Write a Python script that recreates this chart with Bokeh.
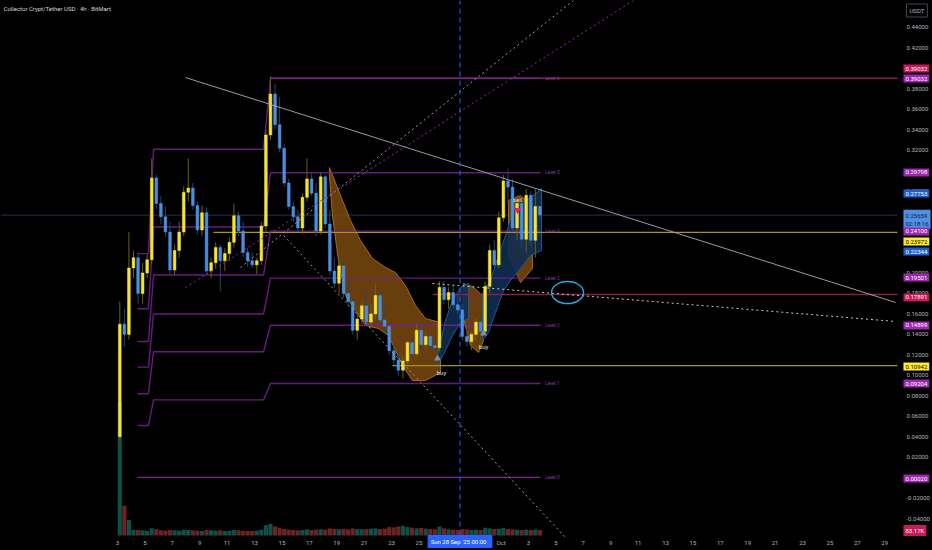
from bokeh.plotting import figure
from bokeh.models import Range1d, FixedTicker, PrintfTickFormatter, Label, ColumnDataSource, GlobalInlineStyleSheet
from bokeh.core.properties import value
from bokeh.embed import file_html
from bokeh.resources import INLINE

# ---------------- data (8h bars from Sep 3 00:00; x in days, Sep 1 = 1, Oct 1 = 31) -------------
opens = [0.040, 0.150, 0.140, 0.205, 0.215, 0.180, 0.200, 0.213, 0.293, 0.268,
         0.255, 0.240, 0.203, 0.222, 0.240, 0.279, 0.283, 0.266, 0.242, 0.259,
         0.202, 0.210, 0.225, 0.212, 0.219, 0.230, 0.256, 0.241, 0.220, 0.212,
         0.208, 0.212, 0.246, 0.335, 0.375, 0.345, 0.322, 0.288, 0.265, 0.255,
         0.244, 0.274, 0.292, 0.278, 0.241, 0.294, 0.248, 0.202, 0.190, 0.207,
         0.180, 0.172, 0.144, 0.155, 0.168, 0.152, 0.160, 0.178, 0.154, 0.148,
         0.124, 0.115, 0.105, 0.114, 0.132, 0.121, 0.144, 0.130, 0.138, 0.129,
         0.127, 0.186, 0.174, 0.181, 0.169, 0.164, 0.138, 0.133, 0.140, 0.152,
         0.143, 0.187, 0.222, 0.208, 0.254, 0.290, 0.284, 0.244, 0.268, 0.233,
         0.276, 0.232, 0.265]
highs = [0.172, 0.165, 0.240, 0.222, 0.220, 0.210, 0.218, 0.312, 0.296, 0.275,
         0.265, 0.250, 0.228, 0.250, 0.285, 0.312, 0.288, 0.270, 0.266, 0.264,
         0.215, 0.230, 0.228, 0.224, 0.235, 0.268, 0.260, 0.250, 0.225, 0.220,
         0.215, 0.250, 0.340, 0.392, 0.385, 0.372, 0.326, 0.292, 0.270, 0.262,
         0.278, 0.312, 0.298, 0.288, 0.298, 0.296, 0.262, 0.215, 0.212, 0.210,
         0.192, 0.176, 0.160, 0.172, 0.182, 0.170, 0.190, 0.182, 0.168, 0.150,
         0.130, 0.122, 0.118, 0.134, 0.136, 0.150, 0.148, 0.142, 0.140, 0.136,
         0.192, 0.192, 0.186, 0.188, 0.178, 0.170, 0.146, 0.142, 0.156, 0.156,
         0.192, 0.228, 0.232, 0.260, 0.296, 0.302, 0.292, 0.276, 0.272, 0.282,
         0.280, 0.282, 0.266]
lows = [0.036, 0.128, 0.135, 0.195, 0.170, 0.170, 0.195, 0.208, 0.262, 0.248,
        0.235, 0.198, 0.198, 0.215, 0.236, 0.270, 0.262, 0.238, 0.236, 0.198,
        0.195, 0.205, 0.182, 0.202, 0.212, 0.225, 0.236, 0.216, 0.206, 0.205,
        0.199, 0.208, 0.240, 0.330, 0.340, 0.318, 0.284, 0.262, 0.250, 0.240,
        0.238, 0.270, 0.275, 0.236, 0.238, 0.244, 0.198, 0.185, 0.180, 0.176,
        0.168, 0.140, 0.135, 0.150, 0.148, 0.146, 0.155, 0.150, 0.142, 0.120,
        0.110, 0.100, 0.097, 0.110, 0.118, 0.118, 0.126, 0.125, 0.126, 0.124,
        0.124, 0.170, 0.165, 0.166, 0.160, 0.134, 0.128, 0.125, 0.134, 0.138,
        0.140, 0.180, 0.205, 0.205, 0.250, 0.268, 0.240, 0.232, 0.225, 0.220,
        0.226, 0.215, 0.252]
closes = [0.150, 0.140, 0.205, 0.215, 0.180, 0.200, 0.213, 0.293, 0.268, 0.255,
          0.240, 0.203, 0.222, 0.240, 0.279, 0.283, 0.266, 0.242, 0.259, 0.202,
          0.210, 0.225, 0.212, 0.219, 0.230, 0.256, 0.241, 0.220, 0.212, 0.208,
          0.212, 0.246, 0.335, 0.375, 0.345, 0.322, 0.288, 0.265, 0.255, 0.244,
          0.274, 0.292, 0.278, 0.241, 0.294, 0.248, 0.202, 0.190, 0.207, 0.180,
          0.172, 0.144, 0.155, 0.168, 0.152, 0.160, 0.178, 0.154, 0.148, 0.124,
          0.115, 0.105, 0.114, 0.132, 0.121, 0.144, 0.130, 0.138, 0.129, 0.127,
          0.186, 0.174, 0.181, 0.169, 0.164, 0.138, 0.133, 0.140, 0.152, 0.143,
          0.187, 0.222, 0.208, 0.254, 0.290, 0.284, 0.244, 0.268, 0.233, 0.276,
          0.232, 0.265, 0.2566]
volumes_k = [2050, 460, 240, 90, 85, 80, 75, 110, 95, 80,
             75, 85, 80, 75, 90, 85, 80, 75, 70, 85,
             80, 75, 80, 70, 75, 85, 80, 75, 70, 70,
             75, 90, 160, 180, 140, 120, 100, 90, 85, 80,
             85, 95, 85, 90, 95, 90, 110, 100, 95, 100,
             95, 110, 100, 95, 100, 105, 110, 100, 105, 130,
             125, 140, 150, 130, 120, 110, 115, 105, 100, 95,
             140, 110, 95, 90, 85, 100, 95, 85, 90, 85,
             120, 110, 100, 105, 115, 100, 95, 90, 85, 90,
             85, 90, 83.17]

bar_hours = 8
first_day = 3

# Fibonacci-style pivot levels (Level 0..6) for three periods
level_names = ["Level 0", "Level 1", "Level 2", "Level 3", "Level 4", "Level 5", "Level 6"]
levels_a = [0.0002, 0.051, 0.082, 0.108, 0.133, 0.165, 0.219]
levels_b = [0.0002, 0.076, 0.123, 0.160, 0.198, 0.245, 0.321]
levels_c = [0.0002, 0.09204, 0.14899, 0.19501, 0.24100, 0.29798, 0.39032]
period_days = [4.46, 5.26, 5.63, 13.66, 14.17, 33.88]

# horizontal rays (start day, price)
red_rays = [(14.17, 0.39032), (26.0, 0.17891)]
yellow_rays = [(10.0, 0.23972), (23.07, 0.10942)]
last_price = 0.25659

# trend lines (day, price) pairs
trend_solid = ([7.96, 59.8], [0.3911, 0.1712])
trend_gray_down = ([15.12, 35.70], [0.2367, -0.0585])
trend_gray_up = ([11.98, 36.28], [0.2054, 0.4664])
trend_purple_up = ([7.96, 40.66], [0.1858, 0.4664])
trend_white_flat = ([25.99, 59.8], [0.1898, 0.1526])
marked_day = 28

# envelope bands (outline days / prices)
orange_band_1 = ([18.47, 19.28, 20.01, 20.74, 21.61, 22.56, 23.29, 24.02, 24.75, 25.48, 26.58,
                  26.58, 25.48, 24.53, 23.80, 23.29, 22.78, 22.05, 21.10, 20.37, 19.64, 19.13, 18.69, 18.47],
                 [0.3031, 0.2758, 0.2513, 0.2318, 0.2142, 0.2054, 0.2005, 0.1878, 0.1683, 0.1555, 0.1516,
                  0.1028, 0.0949, 0.0949, 0.1096, 0.1243, 0.1389, 0.1458, 0.1487, 0.1634, 0.1780, 0.2122, 0.2562, 0.2953])
orange_band_2 = ([28.26, 28.91, 29.72, 29.72, 29.35, 28.77, 28.26],
                 [0.1898, 0.1868, 0.1770, 0.1340, 0.1223, 0.1291, 0.1555])
orange_band_3 = ([31.54, 32.42, 33.29, 33.29, 32.42, 31.54],
                 [0.2709, 0.2758, 0.2660, 0.2044, 0.1907, 0.2171])
blue_band_1 = ([26.36, 26.94, 27.45, 28.04, 28.62, 28.62, 28.04, 27.45, 26.94, 26.36],
               [0.1194, 0.1536, 0.1731, 0.1858, 0.1898, 0.1555, 0.1516, 0.1389, 0.1243, 0.1096])
blue_band_2 = ([29.64, 30.23, 30.81, 31.32, 31.83, 32.42, 33.15, 33.95,
                33.95, 33.15, 32.42, 31.69, 31.18, 30.59, 30.08, 29.64],
               [0.1800, 0.1927, 0.2171, 0.2367, 0.2592, 0.2680, 0.2738, 0.2826,
                0.2220, 0.2171, 0.2044, 0.1927, 0.1829, 0.1614, 0.1418, 0.1340])

buy_days = [26.36, 29.72]
buy_prices = [0.1164, 0.1410]
sell_days = [32.2]
sell_prices = [0.2615]
signal_text = ["buy", "buy", "sell"]
signal_days = [26.65, 29.72, 32.2]
signal_prices = [0.1028, 0.1282, 0.2719]

circle_center = (35.85, 0.1809)
circle_size = (2.34, 0.0215)

# right-hand price badges
badge_text = ["0.39032", "0.39032", "0.29798", "0.27753", "0.25659\n02:18:16", "0.24100", "0.23972",
              "0.22344", "0.19501", "0.17891", "0.14899", "0.10942", "0.09204", "0.00020", "83.17K"]
badge_pos = [0.3999, 0.3901, 0.2983, 0.2777, 0.2523, 0.2406, 0.2308,
             0.2210, 0.1956, 0.1761, 0.1487, 0.1086, 0.0920, -0.0009, -0.0517]
badge_kind = ["red", "purple", "purple", "blue", "last", "purple", "yellow",
              "blue", "purple", "red", "purple", "yellow", "purple", "purple", "red"]

x_tick_days = [3, 5, 7, 9, 11, 13, 15, 17, 19, 21, 23, 25, 31, 33, 35, 37, 39, 41, 43, 45,
               47, 49, 51, 53, 55, 57, 59]
x_tick_labels = ["3", "5", "7", "9", "11", "13", "15", "17", "19", "21", "23", "25", "Oct", "3", "5",
                 "7", "9", "11", "13", "15", "17", "19", "21", "23", "25", "27", "29"]
y_ticks = [-0.04, -0.02, 0.0, 0.02, 0.04, 0.06, 0.08, 0.10, 0.12, 0.14, 0.16, 0.18, 0.20,
           0.22, 0.24, 0.26, 0.28, 0.30, 0.32, 0.34, 0.36, 0.38, 0.40, 0.42, 0.44]

title_text = "Collector Crypt/Tether USD \u00b7 4h \u00b7 BitMart"
date_badge = "Sun 28 Sep '25   00:00"

# ---------------- figure (frame covers whole canvas; axes drawn at fixed locations) -------------
W, H = 932, 550
X0, X1 = -5.5401, 62.489          # visible days
Y0, Y1 = -0.07124, 0.46639        # visible prices
px_x = (X1 - X0) / W
px_y = (Y1 - Y0) / H
CHART_END = 59.93                 # where the price scale starts
AXIS_Y = -0.05658                 # where the time scale starts

p = figure(width=W, height=H, x_range=Range1d(X0, X1), y_range=Range1d(Y0, Y1),
           y_axis_location="right", output_backend="svg", toolbar_location=None,
           background_fill_color="#000000", border_fill_color="#000000", min_border=0)
p.stylesheets = [GlobalInlineStyleSheet(css="html, body { margin: 0 !important; padding: 0 !important; background: #000000; overflow: hidden; }")]
p.outline_line_color = None
p.grid.visible = False
p.extra_y_ranges = {"vol": Range1d(-15 * 15.4, 535 * 15.4)}

FONT = "Roboto"
for ax in (p.xaxis[0], p.yaxis[0]):
    ax.axis_line_color = None
    ax.major_tick_line_color = None
    ax.minor_tick_line_color = None
    ax.major_tick_out = 0
    ax.major_tick_in = 0
    ax.minor_tick_out = 0
    ax.major_label_text_color = "#b2b5be"
    ax.major_label_text_font_size = "6px"
    ax.major_label_text_font = FONT
p.xaxis[0].ticker = FixedTicker(ticks=x_tick_days)
p.xaxis[0].major_label_overrides = {d: t for d, t in zip(x_tick_days, x_tick_labels)}
p.xaxis[0].major_label_standoff = 3
p.xaxis[0].fixed_location = AXIS_Y
p.yaxis[0].ticker = FixedTicker(ticks=y_ticks)
p.yaxis[0].formatter = PrintfTickFormatter(format="%.5f")
p.yaxis[0].major_label_standoff = 9
p.yaxis[0].fixed_location = CHART_END

# last price line
p.line([X0, CHART_END], [last_price, last_price], line_color="#24324a", line_width=1)

# bands
for band in (orange_band_1, orange_band_2, orange_band_3):
    p.patch(band[0], band[1], fill_color="#7a4a0e", fill_alpha=0.85, line_color="#a8681c", line_width=1)
for band in (blue_band_1, blue_band_2):
    p.patch(band[0], band[1], fill_color="#0f2c52", fill_alpha=0.9, line_color="#1f5796", line_width=1)

# rays
for d0, pr in red_rays:
    p.line([d0, CHART_END], [pr, pr], line_color="#8c1f42", line_width=1.5)
for d0, pr in yellow_rays:
    p.line([d0, CHART_END], [pr, pr], line_color="#a3951f", line_width=1.2)

# pivot levels
for k in range(len(level_names)):
    ys = [levels_a[k], levels_a[k], levels_b[k], levels_b[k], levels_c[k], levels_c[k]]
    col = "#9c27b0" if k == 0 else "#7b1f96"
    p.line(period_days, ys, line_color=col, line_width=1.4, line_alpha=0.85)
p.text(x=[period_days[-1] + 0.35] * len(level_names), y=levels_c, text=level_names,
       text_font=value(FONT), text_font_size=value("4.5px"), text_color="#8e3aa8",
       text_baseline="middle", text_align="left")

# volume
n = len(closes)
cx = [first_day + (i + 0.5) * bar_hours / 24 for i in range(n)]
up = [c >= o for o, c in zip(opens, closes)]
vsrc = ColumnDataSource(dict(x=cx, top=volumes_k,
                             color=["#0e5a52" if u else "#7a2727" for u in up]))
p.vbar(x="x", top="top", bottom=0, width=0.9 * bar_hours / 24, source=vsrc, y_range_name="vol",
       fill_color="color", line_color=None, fill_alpha=0.9)

# candles
csrc = ColumnDataSource(dict(x=cx, o=opens, h=highs, l=lows, c=closes,
                             top=[max(o, c) for o, c in zip(opens, closes)],
                             bot=[min(o, c) for o, c in zip(opens, closes)],
                             body=["#f5e435" if u else "#4a90e2" for u in up],
                             wick=["#6b6016" if u else "#25476e" for u in up]))
p.segment(x0="x", y0="l", x1="x", y1="h", source=csrc, line_color="wick", line_width=1)
p.vbar(x="x", top="top", bottom="bot", width=0.6 * bar_hours / 24, source=csrc,
       fill_color="body", line_color="body", line_width=0.5)

# trend lines
p.line(*trend_solid, line_color="#b2b5be", line_width=1, line_alpha=0.85)
p.line(*trend_gray_down, line_color="#9a9a9a", line_width=1, line_dash="2 3")
p.line(*trend_gray_up, line_color="#9a9a9a", line_width=1, line_dash="2 3")
p.line(*trend_purple_up, line_color="#9c27b0", line_width=1, line_dash="2 3")
p.line(*trend_white_flat, line_color="#c8c8c8", line_width=1, line_dash="2 3")
p.line([marked_day, marked_day], [AXIS_Y, Y1], line_color="#2962ff", line_width=1.3,
       line_dash="5 4", line_alpha=0.8)

p.ellipse(x=[circle_center[0]], y=[circle_center[1]], width=circle_size[0], height=circle_size[1],
          fill_color=None, line_color="#29a8e8", line_width=1.4)

# signals
p.scatter(buy_days, buy_prices, marker="triangle", size=7, fill_color="#8a8d96", line_color=None)
p.scatter(sell_days, sell_prices, marker="inverted_triangle", size=7, fill_color="#e91e63", line_color=None)
p.text(x=signal_days, y=signal_prices, text=signal_text, text_font=value(FONT),
       text_font_size=value("6px"), text_color="#e0e0e0", text_align="center", text_baseline="middle")

# badges on the price scale
kind_bg = {"red": "#c8195a", "purple": "#9c27b0", "blue": "#1e5fd0", "last": "#4f8fe8", "yellow": "#ffeb3b"}
kind_fg = {"red": "#ffffff", "purple": "#ffffff", "blue": "#ffffff", "last": "#0b1a33", "yellow": "#000000"}
bx = CHART_END + 6 * px_x
for t, yv, k in zip(badge_text, badge_pos, badge_kind):
    p.add_layout(Label(x=bx, y=yv, text=t, text_font=FONT, text_font_size="6px",
                       text_color=kind_fg[k], background_fill_color=kind_bg[k],
                       text_align="left", text_baseline="middle", padding=2))

p.add_layout(Label(x=CHART_END + 9 * px_x, y=Y1 - 10 * px_y, text="USDT", text_font=FONT, text_font_size="6px",
                   text_color="#b2b5be", background_fill_color="#000000", border_line_color="#434651",
                   text_align="left", text_baseline="middle", padding=3))
p.add_layout(Label(x=X0 + 3 * px_x, y=Y1 - 8 * px_y, text=title_text, text_font=FONT,
                   text_font_size="6px", text_color="#d1d4dc", text_align="left", text_baseline="middle"))
p.add_layout(Label(x=marked_day, y=AXIS_Y - 6 * px_y, text=date_badge, text_font=FONT, text_font_size="6px",
                   text_color="#ffffff", background_fill_color="#2962ff", text_align="center",
                   text_baseline="middle", padding=3))

open("out.html", "w").write(file_html(p, INLINE))
